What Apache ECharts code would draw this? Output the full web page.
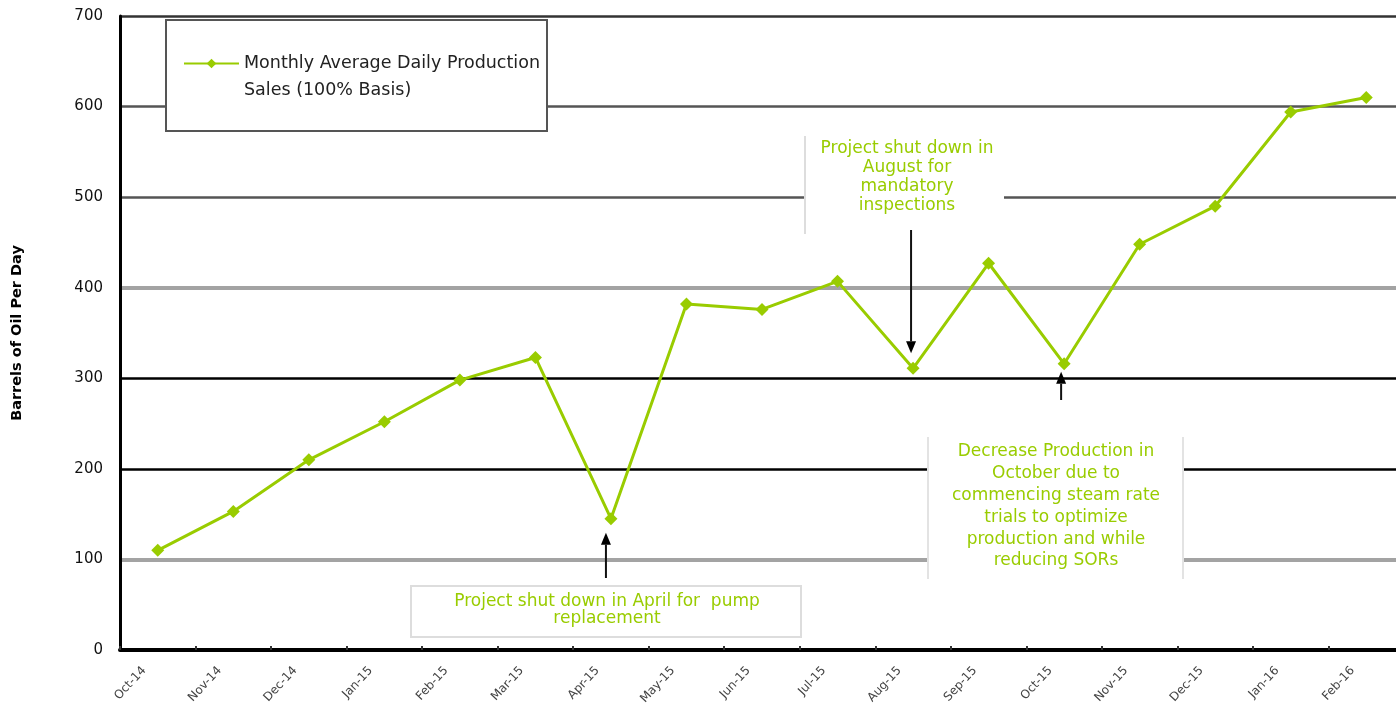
<!DOCTYPE html>
<html><head><meta charset="utf-8">
<script src="https://cdn.jsdelivr.net/npm/echarts@6/dist/echarts.min.js"></script>
<style>html,body{margin:0;padding:0;background:#fff;overflow:hidden}#c{width:1404px;height:722px}</style>
</head><body><div id="c"></div>
<script>
// ---- data ----
const categories = ['Oct-14','Nov-14','Dec-14','Jan-15','Feb-15','Mar-15','Apr-15','May-15','Jun-15','Jul-15','Aug-15','Sep-15','Oct-15','Nov-15','Dec-15','Jan-16','Feb-16'];
const production = [110,153,210,252,298,323,145,382,376,407,311,427,316,448,490,594,610];
const yMin = 0, yMax = 700, yStep = 100;
const seriesName = 'Monthly Average Daily Production Sales (100% Basis)';
const legendLines = ['Monthly Average Daily Production', 'Sales (100% Basis)'];
const yAxisTitle = 'Barrels of Oil Per Day';
const noteApril = ['Project shut down in April for  pump', 'replacement'];
const noteAugust = ['Project shut down in', 'August for', 'mandatory', 'inspections'];
const noteOctober = ['Decrease Production in', 'October due to', 'commencing steam rate', 'trials to optimize', 'production and while', 'reducing SORs'];

// ---- styles ----
const GREEN = '#99cc00';
const FONT = 'DejaVu Sans';
const T = 'rgba(0,0,0,0)';
const darkLines = ['#000', T, '#000', '#000', T, '#555', '#555', '#333'];
const grayLines = [T, '#a3a3a3', T, T, '#a3a3a3', T, T, T];

const chart = echarts.init(document.getElementById('c'));
chart.setOption({
  animation: false,
  backgroundColor: '#fff',
  textStyle: {fontFamily: FONT},
  grid: {left: 120, top: 16, right: 0, bottom: 72},
  legend: {
    left: 183, top: 23, padding: 0,
    itemWidth: 55, itemHeight: 12, itemGap: 5,
    data: [seriesName],
    formatter: () => '\n' + legendLines.join('\n'),
    textStyle: {fontSize: 17.5, color: '#222', lineHeight: 27, fontFamily: FONT}
  },
  xAxis: {
    type: 'category', data: categories, boundaryGap: true,
    axisLine: {lineStyle: {color: '#000', width: 4}},
    axisTick: {show: true, inside: true, length: 4, lineStyle: {color: '#333', width: 2}},
    axisLabel: {rotate: 47, fontSize: 12, color: '#444', margin: 4, interval: 0,
      padding: [0, 20, 0, 0]}
  },
  yAxis: [{
    type: 'value', min: yMin, max: yMax, interval: yStep,
    name: yAxisTitle, nameLocation: 'middle', nameGap: 95,
    nameTextStyle: {fontSize: 14.5, fontWeight: 'bold', color: '#000', fontFamily: FONT},
    axisLine: {show: true, lineStyle: {color: '#000', width: 3}},
    axisTick: {show: false},
    axisLabel: {fontSize: 15, color: '#111', margin: 17},
    splitLine: {show: true, lineStyle: {color: darkLines, width: 2.5}}
  }, {
    type: 'value', min: yMin, max: yMax, interval: yStep, position: 'left',
    axisLine: {show: false}, axisTick: {show: false}, axisLabel: {show: false},
    splitLine: {show: true, lineStyle: {color: grayLines, width: 4}}
  }],
  series: [{
    name: seriesName, type: 'line', data: production,
    symbol: 'diamond', symbolSize: 13,
    lineStyle: {color: GREEN, width: 3},
    itemStyle: {color: GREEN},
    z: 5
  }]
});

function px(i) { return chart.convertToPixel({seriesIndex: 0}, [i, production[i]]); }
function textBlock(lines, cx, y0, lh) {
  return lines.map((s, k) => ({
    type: 'text', z: 11, x: cx, y: y0 + k * lh,
    style: {text: s, fill: GREEN, fontSize: 17, fontFamily: FONT, align: 'center', verticalAlign: 'middle'}
  }));
}
function arrow(x, yFrom, yTip) {
  const dir = yTip < yFrom ? -1 : 1;
  const hy = yTip - dir * 12;
  return [
    {type: 'line', z: 12, shape: {x1: x, y1: yFrom, x2: x, y2: hy}, style: {stroke: '#111', lineWidth: 2}},
    {type: 'polygon', z: 12, shape: {points: [[x, yTip], [x - 5, hy], [x + 5, hy]]}, style: {fill: '#000'}}
  ];
}
const pA = px(6), pG = px(10), pO = px(12);
const els = [];
els.push({type: 'rect', z: 3, shape: {x: 166, y: 20, width: 381, height: 111}, style: {fill: '#fff', stroke: '#555', lineWidth: 2}});
els.push({type: 'rect', z: 10, shape: {x: 411, y: 586, width: 390, height: 51}, style: {fill: '#fff', stroke: '#ddd', lineWidth: 2}});
els.push(...textBlock(noteApril, 607, 602, 17));
els.push(...arrow(pA[0] - 5, 578, pA[1] + 14));
els.push({type: 'rect', z: 10, shape: {x: 804, y: 135, width: 200, height: 100}, style: {fill: '#fff', stroke: null}});
els.push({type: 'line', z: 10, shape: {x1: 805, y1: 136, x2: 805, y2: 234}, style: {stroke: '#ddd', lineWidth: 2}});
els.push(...textBlock(noteAugust, 907, 149, 19));
els.push(...arrow(pG[0] - 2, 230, pG[1] - 15));
els.push({type: 'rect', z: 10, shape: {x: 927, y: 437, width: 256, height: 142}, style: {fill: '#fff', stroke: null}});
els.push({type: 'line', z: 10, shape: {x1: 928, y1: 437, x2: 928, y2: 579}, style: {stroke: '#e3e3e3', lineWidth: 2}});
els.push({type: 'line', z: 10, shape: {x1: 1183, y1: 437, x2: 1183, y2: 579}, style: {stroke: '#e3e3e3', lineWidth: 2}});
els.push(...textBlock(noteOctober, 1056, 452, 21.8));
els.push(...arrow(pO[0] - 3, 400, pO[1] + 8));
chart.setOption({graphic: {elements: els}});
</script>
</body></html>
